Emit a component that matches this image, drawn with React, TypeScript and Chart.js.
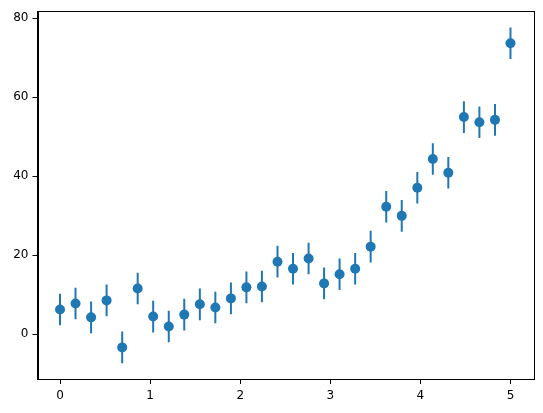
import React, { useEffect, useRef } from "react";
import { Chart, registerables } from "chart.js";

Chart.register(...registerables);

const xValues = [0, 0.172, 0.345, 0.517, 0.69, 0.862, 1.034, 1.207, 1.379, 1.552, 1.724, 1.897, 2.069, 2.241, 2.414, 2.586, 2.759, 2.931, 3.103, 3.276, 3.448, 3.621, 3.793, 3.966, 4.138, 4.31, 4.483, 4.655, 4.828, 5.0];
const yValues = [6.3, 7.8, 4.3, 8.6, -3.3, 11.6, 4.5, 2.0, 5.0, 7.6, 6.8, 9.1, 11.9, 12.1, 18.4, 16.6, 19.2, 12.9, 15.2, 16.6, 22.2, 32.3, 30.0, 37.1, 44.4, 40.9, 55.0, 53.7, 54.3, 73.7];
const yErrors = [4, 4, 4, 4, 4, 4, 4, 4, 4, 4, 4, 4, 4, 4, 4, 4, 4, 4, 4, 4, 4, 4, 4, 4, 4, 4, 4, 4, 4, 4];
const xTicks = [0, 1, 2, 3, 4, 5];
const yTicks = [0, 20, 40, 60, 80];

const BLUE = "#1f77b4";

const framePlugin = {
  id: "frame",
  afterDraw(chart: any) {
    const { ctx, chartArea } = chart;
    ctx.save();
    ctx.strokeStyle = "#000";
    ctx.lineWidth = 1;
    ctx.strokeRect(
      Math.round(chartArea.left) + 0.5,
      Math.round(chartArea.top) + 0.5,
      Math.round(chartArea.right - chartArea.left),
      Math.round(chartArea.bottom - chartArea.top)
    );
    ctx.restore();
  },
};

export default function App() {
  const ref = useRef<HTMLCanvasElement>(null);
  useEffect(() => {
    document.body.style.margin = "0";
    const errData: any[] = [];
    xValues.forEach((x, i) => {
      errData.push({ x, y: yValues[i] - yErrors[i] });
      errData.push({ x, y: yValues[i] + yErrors[i] });
      errData.push({ x, y: null });
    });
    const font = { family: "DejaVu Sans", size: 12 };
    const chart = new Chart(ref.current!, {
      type: "scatter",
      data: {
        datasets: [
          {
            type: "scatter",
            data: xValues.map((x, i) => ({ x, y: yValues[i] })),
            backgroundColor: BLUE,
            borderColor: BLUE,
            pointRadius: 5,
            pointBorderWidth: 0,
            order: 0,
          },
          {
            type: "line",
            data: errData,
            borderColor: BLUE,
            borderWidth: 2,
            pointRadius: 0,
            spanGaps: false,
            showLine: true,
            fill: false,
            order: 1,
          } as any,
        ],
      },
      options: {
        animation: false,
        responsive: false,
        layout: { padding: { left: 0, right: 10, top: 10, bottom: 0 } },
        plugins: { legend: { display: false }, tooltip: { enabled: false } },
        scales: {
          x: {
            type: "linear",
            min: -0.25,
            max: 5.25,
            afterFit: (s: any) => { s.height = 34; },
            afterBuildTicks: (s: any) => { s.ticks = xTicks.map((v) => ({ value: v })); },
            grid: { drawOnChartArea: false, drawTicks: true, tickLength: 5, color: "#000" },
            border: { display: true, color: "#000" },
            ticks: { color: "#000", font, padding: 5, maxRotation: 0 },
          },
          y: {
            type: "linear",
            min: -11.3,
            max: 81.8,
            afterFit: (s: any) => { s.width = 37.5; },
            afterBuildTicks: (s: any) => { s.ticks = yTicks.map((v) => ({ value: v })); },
            grid: { drawOnChartArea: false, drawTicks: true, tickLength: 5, color: "#000" },
            border: { display: true, color: "#000" },
            ticks: { color: "#000", font, padding: 4 },
          },
        },
      },
      plugins: [framePlugin],
    });
    return () => chart.destroy();
  }, []);
  return (
    <div style={{ width: 543, height: 413 }}>
      <canvas ref={ref} width={543} height={413} style={{ width: 543, height: 413, display: "block" }} />
    </div>
  );
}
